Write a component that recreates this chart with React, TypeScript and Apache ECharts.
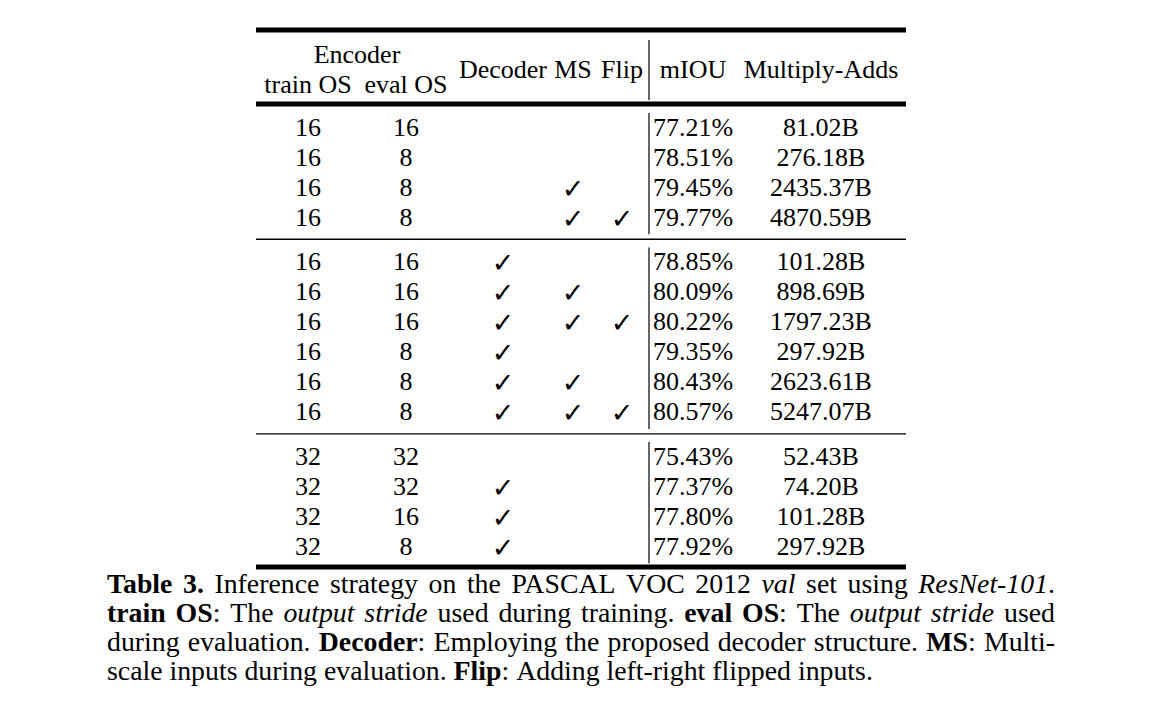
import React, { useEffect, useRef } from "react";
import * as echarts from "echarts";

// ---------- data ----------
const encoderHeader = "Encoder";
const columnHeaders = ["train OS", "eval OS", "Decoder", "MS", "Flip", "mIOU", "Multiply-Adds"];
const groupSizes = [4, 6, 4];
const trainOS = [16, 16, 16, 16, 16, 16, 16, 16, 16, 16, 32, 32, 32, 32];
const evalOS = [16, 8, 8, 8, 16, 16, 16, 8, 8, 8, 32, 32, 16, 8];
const decoder = [0, 0, 0, 0, 1, 1, 1, 1, 1, 1, 0, 1, 1, 1];
const multiScale = [0, 0, 1, 1, 0, 1, 1, 0, 1, 1, 0, 0, 0, 0];
const flip = [0, 0, 0, 1, 0, 0, 1, 0, 0, 1, 0, 0, 0, 0];
const mIOU = ["77.21%", "78.51%", "79.45%", "79.77%", "78.85%", "80.09%", "80.22%", "79.35%", "80.43%", "80.57%", "75.43%", "77.37%", "77.80%", "77.92%"];
const multiplyAdds = ["81.02B", "276.18B", "2435.37B", "4870.59B", "101.28B", "898.69B", "1797.23B", "297.92B", "2623.61B", "5247.07B", "52.43B", "74.20B", "101.28B", "297.92B"];
const captionLines = [
  "**Table** **3.** Inference strategy on the PASCAL VOC 2012 *val* set using *ResNet-101*.",
  "**train** **OS**: The *output* *stride* used during training. **eval** **OS**: The *output* *stride* used",
  "during evaluation. **Decoder**: Employing the proposed decoder structure. **MS**: Multi-",
  "scale inputs during evaluation. **Flip**: Adding left-right flipped inputs.",
];

// ---------- layout ----------
const SERIF = '"Liberation Serif", "Times New Roman", serif';
const TABLE_FS = 26;
const TABLE_L = 256;
const TABLE_R = 906;
const VLINE_X = 649;
const COL_X = [308, 406, 503, 573, 622, 693, 821];
const ROW0_Y = 127;
const ROW_STEP = 30.1;
const GROUP_GAP = 14;
const CAP_L = 107;
const CAP_R = 1055;
const CAP_Y0 = 583;
const CAP_STEP = 29.2;

type Run = { t: string; b: boolean; i: boolean };

function parseWord(w: string): Run[] {
  const runs: Run[] = [];
  const re = /\*\*([^*]+)\*\*|\*([^*]+)\*|([^*]+)/g;
  let m: RegExpExecArray | null;
  while ((m = re.exec(w))) {
    if (m[1] !== undefined) runs.push({ t: m[1], b: true, i: false });
    else if (m[2] !== undefined) runs.push({ t: m[2], b: false, i: true });
    else runs.push({ t: m[3], b: false, i: false });
  }
  return runs;
}

function buildElements() {
  const els: any[] = [];
  const canvas = document.createElement("canvas");
  const ctx = canvas.getContext("2d")!;
  const measure = (t: string, fs: number, b = false, i = false) => {
    ctx.font = `${i ? "italic " : ""}${b ? "bold " : ""}${fs}px ${SERIF}`;
    return ctx.measureText(t).width;
  };
  const text = (t: string, x: number, y: number, fs: number, extra: any = {}) =>
    els.push({
      type: "text",
      x,
      y,
      style: {
        text: t,
        fontSize: fs,
        fontFamily: SERIF,
        fill: "#000",
        align: "center",
        verticalAlign: "middle",
        ...extra,
      },
    });
  const line = (x1: number, y1: number, x2: number, y2: number, w: number) =>
    els.push({ type: "line", shape: { x1, y1, x2, y2 }, style: { stroke: "#000", lineWidth: w } });

  // rules
  line(TABLE_L, 30, TABLE_R, 30, 5);
  line(TABLE_L, 104, TABLE_R, 104, 5);
  line(TABLE_L, 567, TABLE_R, 567, 5);

  // header
  text(encoderHeader, (COL_X[0] + COL_X[1]) / 2, 54, TABLE_FS);
  text(columnHeaders[0], COL_X[0], 84, TABLE_FS);
  text(columnHeaders[1], COL_X[1], 84, TABLE_FS);
  for (let c = 2; c < columnHeaders.length; c++) text(columnHeaders[c], COL_X[c], 69, TABLE_FS);
  line(VLINE_X, 40, VLINE_X, 100, 1.2);

  // rows
  let r = 0;
  groupSizes.forEach((n, g) => {
    const yFirst = ROW0_Y + r * ROW_STEP + g * GROUP_GAP;
    for (let k = 0; k < n; k++, r++) {
      const y = ROW0_Y + r * ROW_STEP + g * GROUP_GAP;
      text(String(trainOS[r]), COL_X[0], y, TABLE_FS);
      text(String(evalOS[r]), COL_X[1], y, TABLE_FS);
      const checks = [decoder[r], multiScale[r], flip[r]];
      checks.forEach((v, j) => {
        if (v) text("\u2713", COL_X[2 + j], y + 1, 27, { fontFamily: '"DejaVu Sans", sans-serif' });
      });
      text(mIOU[r], COL_X[5], y, TABLE_FS);
      text(multiplyAdds[r], COL_X[6], y, TABLE_FS);
    }
    const yLast = ROW0_Y + (r - 1) * ROW_STEP + g * GROUP_GAP;
    line(VLINE_X, yFirst - 14, VLINE_X, yLast + 17, 1.2);
    if (g < groupSizes.length - 1) {
      const yr = yLast + 22;
      line(TABLE_L, yr, TABLE_R, yr, 1.4);
    }
  });

  // caption
  const base = 25;
  const lastWords = captionLines[captionLines.length - 1].split(" ").map(parseWord);
  const natural = (words: Run[][], fs: number) =>
    words.reduce((s, w) => s + w.reduce((a, ru) => a + measure(ru.t, fs, ru.b, ru.i), 0), 0);
  const spaceW0 = measure(" ", base);
  const lastW = natural(lastWords, base) + spaceW0 * (lastWords.length - 1);
  const fs = base * (873 - CAP_L) / lastW;
  const spaceW = measure(" ", fs);
  captionLines.forEach((ln, li) => {
    const words = ln.split(" ").map(parseWord);
    const y = CAP_Y0 + li * CAP_STEP;
    const total = natural(words, fs);
    const isLast = li === captionLines.length - 1;
    const gap = isLast ? spaceW : (CAP_R - CAP_L - total) / (words.length - 1);
    let x = CAP_L;
    words.forEach((w) => {
      w.forEach((ru) => {
        els.push({
          type: "text",
          x,
          y,
          style: {
            text: ru.t,
            fontSize: fs,
            fontFamily: SERIF,
            fontWeight: ru.b ? "bold" : "normal",
            fontStyle: ru.i ? "italic" : "normal",
            fill: "#000",
            align: "left",
            verticalAlign: "middle",
          },
        });
        x += measure(ru.t, fs, ru.b, ru.i);
      });
      x += gap;
    });
  });
  return els;
}

export default function App() {
  const ref = useRef<HTMLDivElement>(null);
  useEffect(() => {
    document.body.style.margin = "0";
    const chart = echarts.init(ref.current!, null, { renderer: "svg" });
    chart.setOption({
      animation: false,
      backgroundColor: "#fff",
      graphic: { elements: buildElements() },
    });
    return () => chart.dispose();
  }, []);
  return <div ref={ref} style={{ width: 1173, height: 719 }} />;
}
